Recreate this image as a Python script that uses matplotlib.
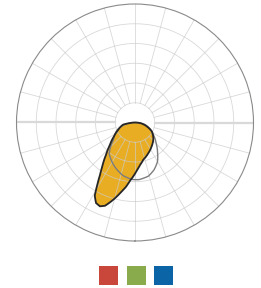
"""Polar intensity diagram: filled beam + reference curve, ring/spoke grid, swatch legend."""

import numpy as np
import matplotlib
matplotlib.use("Agg")
import matplotlib.pyplot as plt
from matplotlib.patches import Rectangle, PathPatch
from matplotlib.path import Path

# beam (filled) -- angle from nadir in degrees, intensity
beam_deg = [-90, -84, -80, -66.7, -56.7, -48.4, -42, -37.4, -33.8, -31.2, -28.8,
            -25.8, -22.7, -19.8, -15.7, -10.9, -8, -4.9, 1.2, 6.7, 12.6, 23.6,
            35.1, 49.7, 62.2, 72, 84, 90]
beam_val = [0, 25, 61, 92, 127, 169, 219, 269, 318, 368, 423,
            453, 460, 448, 406, 355, 329, 296, 250, 217, 193, 169,
            147, 122, 96, 62, 25, 0]

# reference curve (thin grey)
ref_deg = [-90, -80, -68, -51, -45.6, -39.4, -24, -12.5, -2.5, 4, 14, 22,
           30, 36, 45, 55, 66, 80, 90]
ref_val = [0, 46, 96, 141, 172, 206, 248, 276, 289, 290, 280, 258,
           228, 195, 152, 116, 86, 46, 0]

rings = [100, 200, 300, 400, 500]
r_max = 600
legend_colors = ["#c9463a", "#8aab4b", "#0b64a5"]

W, H = 261, 288
fig = plt.figure(figsize=(W / 100, H / 100), dpi=100)
cx, cy, rad = 135, 122.5, 118.5
ax = fig.add_axes([(cx - rad) / W, (H - cy - rad) / H, 2 * rad / W, 2 * rad / H],
                  projection="polar")
ax.set_theta_zero_location("S")
ax.set_rlim(0, r_max)
ax.set_xticks([])
ax.set_yticks([])
ax.grid(False)
ax.spines["polar"].set_color("#8a8a8a")
ax.spines["polar"].set_linewidth(0.8)


def polar_patch(deg, val, **kw):
    verts = np.column_stack([np.radians(deg), val])
    return PathPatch(Path(verts, _interpolation_steps=8), transform=ax.transData, **kw)


ax.add_patch(polar_patch(beam_deg, beam_val, facecolor="#e9ad24", edgecolor="none", zorder=1))

# grid on top of the fill
full = np.linspace(0, 2 * np.pi, 361)
for r in rings:
    ax.plot(full, np.full_like(full, r), color="#cccccc", lw=0.6, alpha=0.75, zorder=2)
for a in range(0, 360, 15):
    t = np.radians(a)
    if a in (90, 270):
        ax.plot([t, t], [rings[0], r_max], color="#d9d9d9", lw=1.6, zorder=2)
    else:
        ax.plot([t, t], [rings[0], r_max], color="#cccccc", lw=0.6, alpha=0.75, zorder=2)

ax.add_patch(polar_patch(ref_deg, ref_val, facecolor="none", edgecolor="#7d7d7d",
                         lw=1.0, zorder=3))
ax.add_patch(polar_patch(beam_deg, beam_val, facecolor="none", edgecolor="#262626",
                         lw=1.3, zorder=4))

# swatch legend (no labels)
sw, gap, y0 = 19, 8.5, H - 284.5
x0 = 99
for i, c in enumerate(legend_colors):
    fig.add_artist(Rectangle(((x0 + i * (sw + gap)) / W, y0 / H), sw / W, sw / H,
                             transform=fig.transFigure, facecolor=c, edgecolor="none"))

fig.savefig("out.png", dpi=100)
